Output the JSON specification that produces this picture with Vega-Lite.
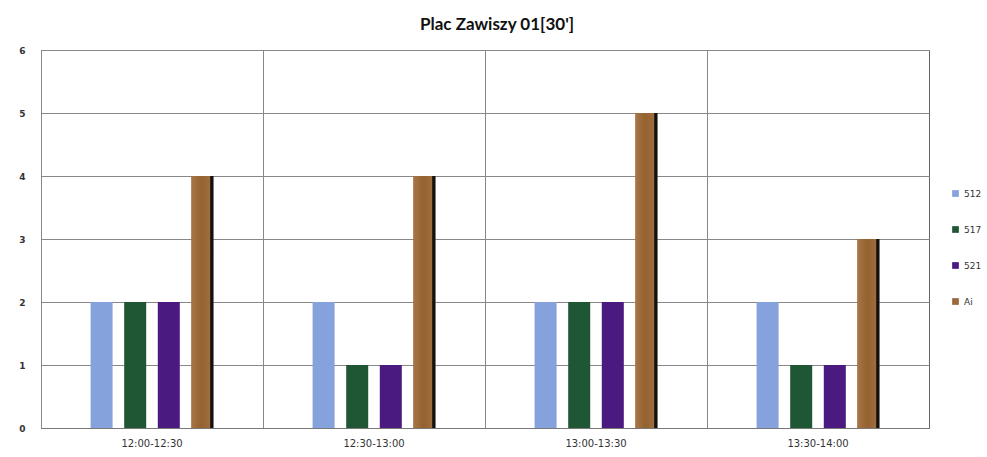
{
  "$schema": "https://vega.github.io/schema/vega-lite/v6.json",
  "width": 888,
  "height": 378,
  "autosize": {"type": "none"},
  "padding": {"left": 41, "top": 50, "right": 58, "bottom": 29},
  "background": "white",
  "title": {
    "text": "Plac Zawiszy 01[30']",
    "font": "Lato",
    "fontSize": 17,
    "fontWeight": "bold",
    "color": "#111111",
    "offset": 12,
    "dx": 12,
    "anchor": "middle"
  },
  "config": {
    "view": {"stroke": "#666666", "strokeWidth": 1},
    "font": "DejaVu Sans"
  },
  "data": {
    "values": [
      {"period": "12:00-12:30", "series": "512", "value": 2},
      {"period": "12:00-12:30", "series": "517", "value": 2},
      {"period": "12:00-12:30", "series": "521", "value": 2},
      {"period": "12:00-12:30", "series": "Ai", "value": 4},
      {"period": "12:30-13:00", "series": "512", "value": 2},
      {"period": "12:30-13:00", "series": "517", "value": 1},
      {"period": "12:30-13:00", "series": "521", "value": 1},
      {"period": "12:30-13:00", "series": "Ai", "value": 4},
      {"period": "13:00-13:30", "series": "512", "value": 2},
      {"period": "13:00-13:30", "series": "517", "value": 2},
      {"period": "13:00-13:30", "series": "521", "value": 2},
      {"period": "13:00-13:30", "series": "Ai", "value": 5},
      {"period": "13:30-14:00", "series": "512", "value": 2},
      {"period": "13:30-14:00", "series": "517", "value": 1},
      {"period": "13:30-14:00", "series": "521", "value": 1},
      {"period": "13:30-14:00", "series": "Ai", "value": 3}
    ]
  },
  "encoding": {
    "x": {
      "field": "period",
      "type": "nominal",
      "scale": {"paddingInner": 0, "paddingOuter": 0},
      "axis": {
        "title": null,
        "labelAngle": 0,
        "labelFontSize": 10,
        "labelColor": "#333333",
        "labelPadding": 10,
        "ticks": false,
        "domainColor": "#777777",
        "grid": true,
        "gridColor": "#888888",
        "bandPosition": 0
      }
    },
    "xOffset": {
      "field": "series",
      "type": "nominal",
      "scale": {"domain": ["padA", "512", "517", "521", "Ai", "padB"], "paddingInner": 0.345, "paddingOuter": 0.476}
    },
    "y": {
      "field": "value",
      "type": "quantitative",
      "scale": {"domain": [0, 6], "nice": false},
      "axis": {
        "title": null,
        "values": [0, 1, 2, 3, 4, 5, 6],
        "labelOverlap": false,
        "labelFontSize": 9,
        "labelFontWeight": "bold",
        "labelColor": "#333333",
        "labelPadding": 16,
        "ticks": false,
        "domainColor": "#888888",
        "gridColor": "#888888"
      }
    }
  },
  "layer": [
    {
      "mark": {"type": "bar"},
      "encoding": {
        "color": {
          "field": "series",
          "type": "nominal",
          "scale": {
            "domain": ["512", "517", "521", "Ai"],
            "range": ["#86a2dc", "#1f5634", "#4a1a80", "#9b6a3c"]
          },
          "legend": {
            "title": null,
            "orient": "none",
            "legendX": 910,
            "legendY": 139,
            "symbolType": "square",
            "symbolSize": 45,
            "symbolStrokeWidth": 0,
            "labelFontSize": 9,
            "labelColor": "#333333",
            "rowPadding": 26
          }
        }
      }
    },
    {
      "transform": [{"filter": "datum.series === 'Ai'"}],
      "mark": {
        "type": "bar",
        "color": {
          "gradient": "linear",
          "x1": 0, "y1": 0, "x2": 1, "y2": 0,
          "stops": [
            {"offset": 0, "color": "#a87548"},
            {"offset": 0.45, "color": "#93622f"},
            {"offset": 0.86, "color": "#a06d3e"},
            {"offset": 0.87, "color": "#111111"},
            {"offset": 1, "color": "#111111"}
          ]
        }
      },
      "encoding": {}
    }
  ]
}
